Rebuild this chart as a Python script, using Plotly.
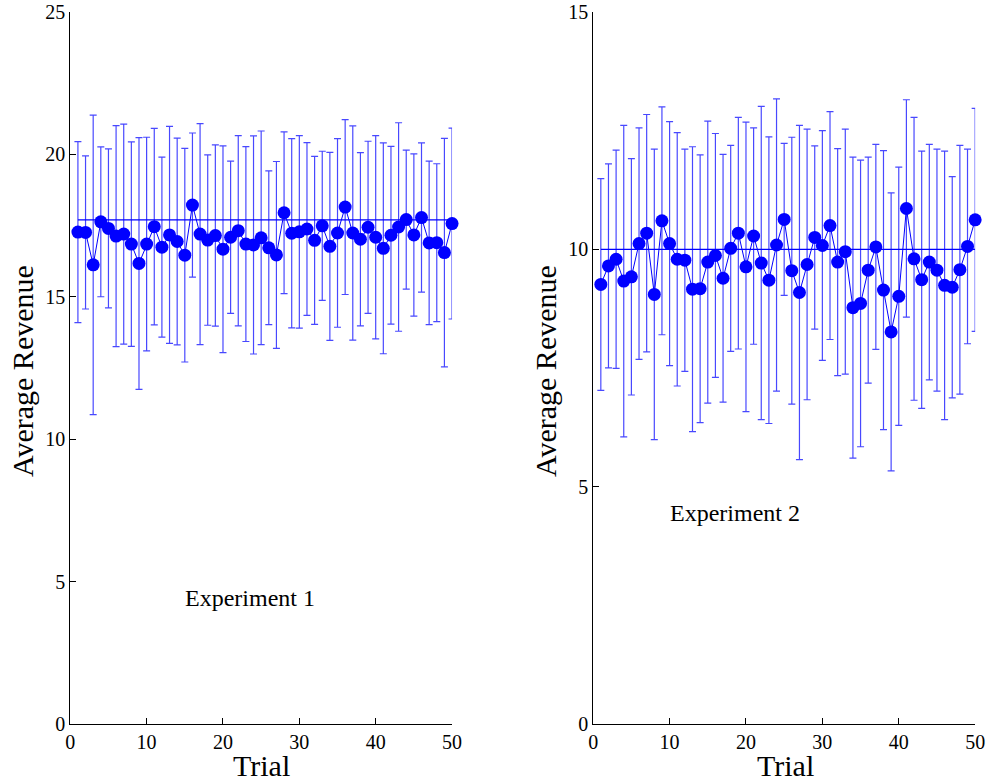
import plotly.graph_objects as go

trials = list(range(1, 51))

exp1_mean = [17.27, 17.26, 16.12, 17.63, 17.40, 17.13, 17.20, 16.85, 16.17, 16.85,
             17.46, 16.74, 17.17, 16.94, 16.46, 18.22, 17.20, 16.99, 17.15, 16.67,
             17.09, 17.32, 16.85, 16.82, 17.07, 16.72, 16.47, 17.95, 17.23, 17.28,
             17.38, 16.98, 17.49, 16.77, 17.24, 18.15, 17.24, 17.02, 17.44, 17.09,
             16.70, 17.16, 17.45, 17.71, 17.17, 17.78, 16.89, 16.90, 16.55, 17.57]
exp1_err = [3.18, 2.69, 5.26, 2.63, 2.79, 3.88, 3.86, 3.59, 4.42, 3.75,
            3.45, 3.16, 3.81, 3.63, 3.75, 2.53, 3.88, 2.99, 3.18, 3.63,
            2.67, 3.34, 3.42, 3.83, 3.75, 2.70, 3.28, 2.84, 3.32, 3.38,
            3.03, 2.95, 2.62, 3.30, 3.31, 3.07, 3.76, 3.04, 3.02, 3.57,
            3.70, 3.12, 3.66, 2.44, 2.85, 2.62, 2.87, 2.77, 4.01, 3.35]
exp1_overall = 17.70

exp2_mean = [9.26, 9.65, 9.79, 9.33, 9.42, 10.12, 10.34, 9.05, 10.60, 10.12,
             9.79, 9.77, 9.16, 9.17, 9.73, 9.87, 9.39, 10.02, 10.34, 9.63,
             10.28, 9.71, 9.35, 10.09, 10.63, 9.55, 9.09, 9.68, 10.25, 10.08,
             10.50, 9.73, 9.95, 8.77, 8.86, 9.56, 10.05, 9.14, 8.26, 9.01,
             10.86, 9.80, 9.36, 9.73, 9.56, 9.24, 9.20, 9.57, 10.06, 10.62]
exp2_err = [2.23, 2.15, 2.30, 3.28, 2.49, 2.44, 2.50, 3.06, 2.40, 2.57,
            2.67, 2.34, 3.00, 2.82, 2.97, 2.57, 2.61, 2.17, 2.44, 3.05,
            2.28, 3.30, 3.02, 3.08, 1.60, 2.81, 3.52, 2.85, 1.93, 2.42,
            2.40, 2.39, 2.58, 3.17, 3.02, 2.38, 2.16, 2.94, 2.93, 2.72,
            2.29, 2.98, 2.71, 2.48, 2.55, 2.83, 2.33, 2.62, 2.05, 2.35]
exp2_overall = 10.0

x_ticks = [0, 10, 20, 30, 40, 50]
y1_ticks = [0, 5, 10, 15, 20, 25]
y2_ticks = [0, 5, 10, 15]

BLUE = "#0000ff"
FONT = "Liberation Serif"

fig = go.Figure()

for means, errs, overall, xa, ya in [
    (exp1_mean, exp1_err, exp1_overall, "x", "y"),
    (exp2_mean, exp2_err, exp2_overall, "x2", "y2"),
]:
    fig.add_trace(go.Scatter(
        x=trials, y=means, xaxis=xa, yaxis=ya, mode="lines+markers",
        line=dict(color=BLUE, width=1),
        marker=dict(color=BLUE, size=13),
        error_y=dict(type="data", array=errs, visible=True, color="rgba(40,40,255,0.85)",
                     thickness=1.2, width=3.5),
        cliponaxis=False, showlegend=False,
    ))
    fig.add_trace(go.Scatter(
        x=[trials[0], trials[-1]], y=[overall, overall], xaxis=xa, yaxis=ya,
        mode="lines", line=dict(color=BLUE, width=1.3), showlegend=False,
    ))

axis_common = dict(
    showgrid=False, zeroline=False, showline=True, linecolor="black", linewidth=1,
    ticks="inside", ticklen=6, tickcolor="black", mirror=False, automargin=False,
    tickfont=dict(family=FONT, size=20, color="black"),
)

fig.update_layout(
    width=987, height=782,
    margin=dict(l=0, r=0, t=0, b=0, autoexpand=False),
    paper_bgcolor="white", plot_bgcolor="white",
    xaxis=dict(domain=[0.0712, 0.458], range=[0, 50], tickvals=x_ticks, anchor="y", **axis_common),
    yaxis=dict(domain=[0.0742, 0.9847], range=[0, 25], tickvals=y1_ticks, anchor="x", **axis_common),
    xaxis2=dict(domain=[0.601, 0.988], range=[0, 50], tickvals=x_ticks, anchor="y2", **axis_common),
    yaxis2=dict(domain=[0.0742, 0.9847], range=[0, 15], tickvals=y2_ticks, anchor="x2", **axis_common),
)

title_font = dict(family=FONT, size=30, color="black")
ann = [
    dict(text="Trial", xref="paper", yref="paper", x=261 / 987, y=1 - 765 / 782,
         showarrow=False, font=title_font, xanchor="center", yanchor="middle"),
    dict(text="Trial", xref="paper", yref="paper", x=785 / 987, y=1 - 765 / 782,
         showarrow=False, font=title_font, xanchor="center", yanchor="middle"),
    dict(text="Average Revenue", xref="paper", yref="paper", x=22 / 987, y=1 - 371 / 782,
         showarrow=False, font=title_font, textangle=-90, xanchor="center", yanchor="middle"),
    dict(text="Average Revenue", xref="paper", yref="paper", x=545 / 987, y=1 - 371 / 782,
         showarrow=False, font=title_font, textangle=-90, xanchor="center", yanchor="middle"),
    dict(text="Experiment 1", xref="x", yref="y", x=23.5, y=4.42, showarrow=False,
         font=dict(family=FONT, size=24, color="black")),
    dict(text="Experiment 2", xref="x2", yref="y2", x=18.57, y=4.44, showarrow=False,
         font=dict(family=FONT, size=24, color="black")),
]
fig.update_layout(annotations=ann)

fig.write_html("out.html")
